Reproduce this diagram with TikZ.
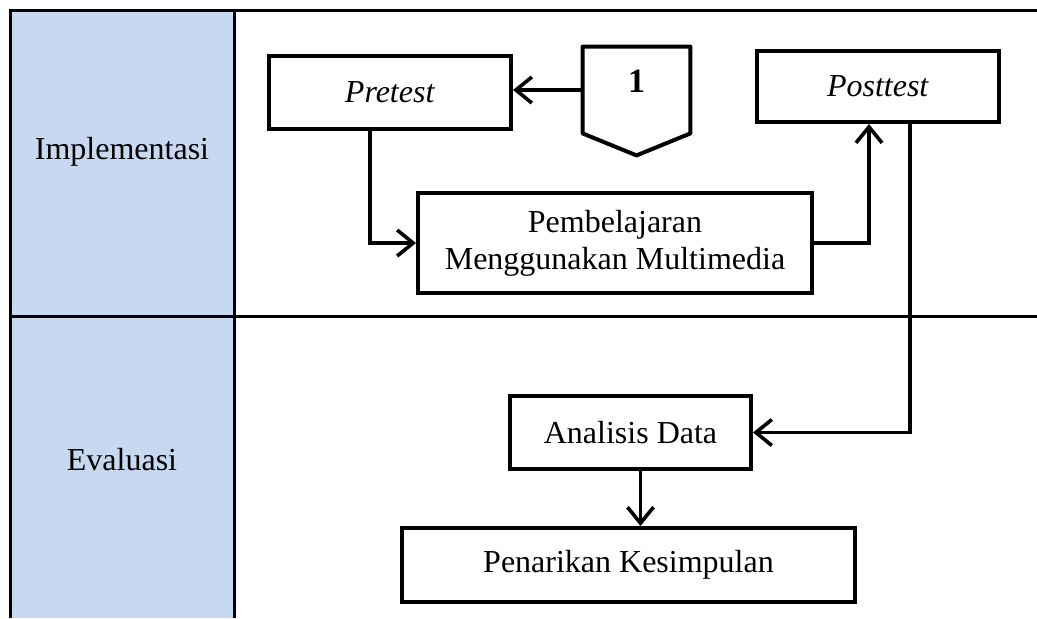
\documentclass[tikz,border=0pt]{standalone}
\usepackage{fontspec}
\setmainfont{Liberation Serif}
\usetikzlibrary{arrows.meta}
\definecolor{kolombiru}{RGB}{198,217,240}
\tikzset{
    kotak/.style = {draw, line width=2pt, fill=white, inner sep=0pt, align=center},
    panah/.style = {line width=1.8pt, -{Straight Barb[length=8pt,width=13pt,line width=1.8pt]}},
    garis/.style = {line width=1.5pt}
}

\begin{document}
\begin{tikzpicture}[x=0.5pt,y=-0.5pt,node font=\fontsize{16}{18.5}\selectfont]
            \useasboundingbox (0,0) rectangle (1037,618);
            % tabel
            \fill [kolombiru] (10,10) rectangle (234,618);
            \draw [garis] (10,618) -- (10,10) -- (1037,10);
            \draw [garis] (234,10) -- (234,618);
            \draw [garis] (10,316) -- (1037,316);
            \node (implementasi) at (122,152) {Implementasi};
            \node (evaluasi) at (122,460) {Evaluasi};
            % kotak
            \node [kotak, minimum width=121pt, minimum height=36.5pt] (pretest) at (390,92.5) {\textit{Pretest}};
            \node [kotak, minimum width=121pt, minimum height=35.5pt] (posttest) at (878,86.5) {\textit{Posttest}};
            \node [kotak, minimum width=197pt, minimum height=50pt] (pembelajaran) at (615,243) {Pembelajaran\\Menggunakan Multimedia};
            \node [kotak, minimum width=120.5pt, minimum height=36.5pt] (analisis) at (630.5,432.5) {Analisis Data};
            \node [kotak, minimum width=226.5pt, minimum height=37pt] (kesimpulan) at (628.5,565) {Penarikan Kesimpulan};
            \node [minimum width=53.5pt, minimum height=43pt, inner sep=0pt] (konektor) at (636.5,90) {};
            \draw [line width=2pt, line join=round] (konektor.north west) -- (konektor.north east) -- (konektor.south east)
                -- ([yshift=-11pt]konektor.south) -- (konektor.south west) -- cycle;
            \node [font=\fontsize{17}{20}\selectfont\bfseries] (nomor) at (636.5,81) {1};
            % panah
            \draw [panah] (konektor.west) -- (konektor.west -| pretest.east);
            \draw [panah] ([xshift=-10pt]pretest.south) |- (pembelajaran.west);
            \draw [panah] (pembelajaran.east) -| ([xshift=-4.5pt]posttest.south);
            \draw [panah] ([xshift=16pt]posttest.south) |- (analisis.east);
            \draw [panah] ([xshift=5pt]analisis.south) -- ([xshift=5pt]analisis.south |- kesimpulan.north);
\end{tikzpicture}
\end{document}
